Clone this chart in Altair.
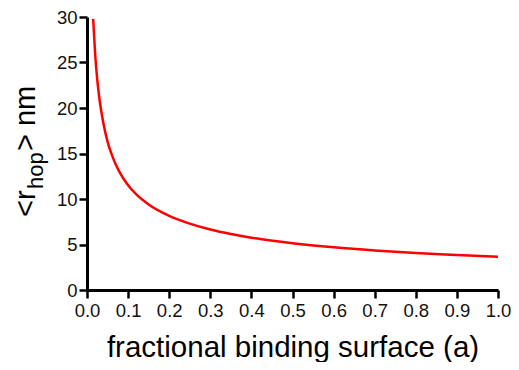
import altair as alt
import pandas as pd

# Values
a_vals = [0.015, 0.02, 0.025, 0.03, 0.04, 0.05, 0.06, 0.07, 0.08, 0.10, 0.12, 0.15,
          0.20, 0.25, 0.30, 0.35, 0.40, 0.50, 0.60, 0.70, 0.80, 0.90, 1.00]
r_vals = [29.8, 25.8, 23.1, 21.1, 18.3, 16.3, 14.9, 13.8, 12.9, 11.5, 10.5, 9.4,
          8.15, 7.3, 6.65, 6.15, 5.75, 5.15, 4.7, 4.35, 4.07, 3.85, 3.65]
x_ticks = [0.0, 0.1, 0.2, 0.3, 0.4, 0.5, 0.6, 0.7, 0.8, 0.9, 1.0]
y_ticks = [0, 5, 10, 15, 20, 25, 30]
x_title = "fractional binding surface (a)"

df = pd.DataFrame({"a": a_vals, "r": r_vals})
FONT = "Liberation Sans"

line = alt.Chart(df).mark_line(color="#ff0000", strokeWidth=2.5, interpolate="monotone").encode(
    x=alt.X("a:Q", scale=alt.Scale(domain=[0, 1], nice=False),
            axis=alt.Axis(values=x_ticks, format=".1f", title=x_title,
                          titleFontSize=29.5, titleFontWeight="normal", titleFont=FONT,
                          titleBaseline="alphabetic", titleY=66, titleColor="#000",
                          labelFontSize=18.5, labelFont=FONT, labelColor="#111",
                          labelFlush=False, labelOverlap=False, labelBound=False,
                          labelPadding=3, tickSize=8, tickWidth=2.5, tickColor="#000",
                          domainColor="#000", domainWidth=3, grid=False)),
    y=alt.Y("r:Q", scale=alt.Scale(domain=[0, 30], nice=False),
            axis=alt.Axis(values=y_ticks, title=None,
                          labelFontSize=18.5, labelFont=FONT, labelColor="#111",
                          labelFlush=False, labelOverlap=False, labelBound=False,
                          labelPadding=2, tickSize=8, tickWidth=2.5, tickColor="#000",
                          domainColor="#000", domainWidth=3, grid=False)),
)

one = pd.DataFrame({"k": [0]})

def ytext(txt, size, xpos, ypos):
    return alt.Chart(one).mark_text(
        angle=270, align="left", baseline="alphabetic", fontSize=size, font=FONT, color="#000"
    ).encode(x=alt.value(xpos), y=alt.value(ypos), text=alt.value(txt))

t1 = ytext("<r", 29, -52, 200)
t2 = ytext("hop", 22, -44, 172)
t3 = ytext("> nm", 29, -52, 134)

chart = alt.layer(line, t1, t2, t3).properties(
    width=411, height=273,
    autosize=alt.AutoSizeParams(type="none"),
    padding={"left": 79, "top": 9, "right": 13, "bottom": 72},
).configure_view(stroke=None)

chart.save("out.html", embed_options={"renderer": "svg", "actions": False})
